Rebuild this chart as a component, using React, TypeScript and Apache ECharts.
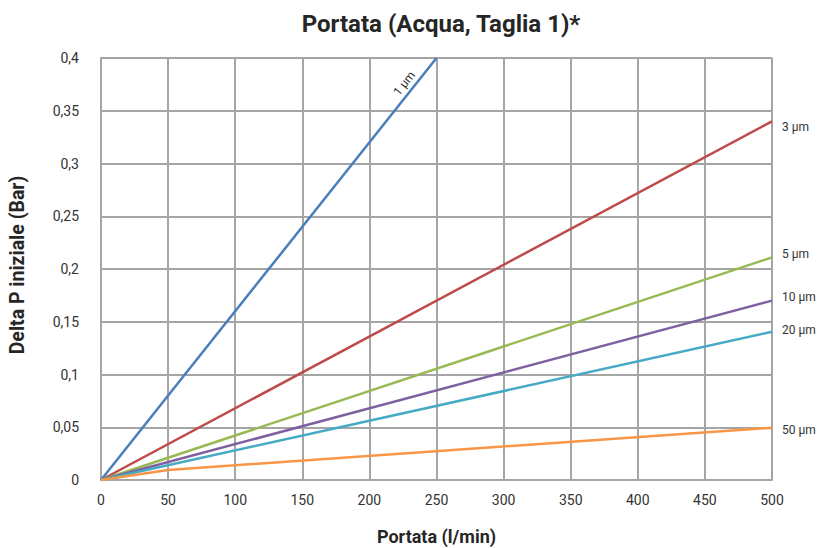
import React, { useEffect, useRef } from "react";
import * as echarts from "echarts";

const title = "Portata (Acqua, Taglia 1)*";
const xName = "Portata (l/min)";
const yName = "Delta P iniziale (Bar)";

const seriesNames = ["1 µm", "3 µm", "5 µm", "10 µm", "20 µm", "50 µm"];
const colors = ["#4a7ebb", "#be4b48", "#98b954", "#7d60a0", "#46aac5", "#f79646"];

const line1um = [[0, 0], [250, 0.4]];
const line3um = [[0, 0], [500, 0.34]];
const line5um = [[0, 0], [500, 0.211]];
const line10um = [[0, 0], [500, 0.17]];
const line20um = [[0, 0], [500, 0.1405]];
const line50um = [[0, 0], [50, 0.0095], [500, 0.0495]];

const seriesData = [line1um, line3um, line5um, line10um, line20um, line50um];

const label1umAt = [226, 0.376];
const endLabelShiftY = [0, 6, -3, -4, -2, 2];

const fmt = (v: number) => String(+v.toFixed(2)).replace(".", ",");

export default function App() {
  const ref = useRef<HTMLDivElement>(null);
  useEffect(() => {
    if (!ref.current) return;
    const chart = echarts.init(ref.current, null, { renderer: "svg" });
    const font = "Roboto";
    chart.setOption({
      animation: false,
      backgroundColor: "#ffffff",
      title: {
        text: title,
        left: 436,
        textAlign: "center",
        top: 7,
        textStyle: { fontFamily: font, fontSize: 24, fontWeight: "bold", color: "#262626" },
      },
      grid: { left: 101, right: 48, top: 58, bottom: 68, containLabel: false, outerBoundsMode: "none" },
      xAxis: {
        type: "value",
        min: 0,
        max: 500,
        interval: 50,
        name: xName,
        nameLocation: "middle",
        nameGap: 47,
        nameTextStyle: { fontFamily: font, fontSize: 18, fontWeight: "bold", color: "#262626" },
        axisLine: { show: true, lineStyle: { color: "#a5a5a5", width: 2 } },
        axisTick: { show: false },
        axisLabel: { fontFamily: font, fontSize: 14, color: "#333", margin: 13 },
        splitLine: { show: true, lineStyle: { color: "#a5a5a5", width: 2 } },
      },
      yAxis: {
        type: "value",
        min: 0,
        max: 0.4,
        interval: 0.05,
        name: yName,
        nameLocation: "middle",
        nameGap: 74,
        nameTextStyle: { fontFamily: font, fontSize: 19.5, fontWeight: "bold", color: "#262626", padding: [0, 0, 0, 8] },
        axisLine: { show: true, lineStyle: { color: "#a5a5a5", width: 2 } },
        axisTick: { show: false },
        axisLabel: { fontFamily: font, fontSize: 14, color: "#333", margin: 22, formatter: fmt },
        splitLine: { show: true, lineStyle: { color: "#a5a5a5", width: 2 } },
      },
      series: seriesData.map((d, i) => ({
        type: "line",
        name: seriesNames[i],
        data: d,
        symbol: "none",
        clip: true,
        lineStyle: { color: colors[i], width: 2.5 },
        itemStyle: { color: colors[i] },
        endLabel:
          i === 0
            ? { show: false }
            : {
                show: true,
                formatter: "{a}",
                distance: 10,
                offset: [0, endLabelShiftY[i]],
                fontFamily: font,
                fontSize: 12,
                color: "#333",
              },
        markPoint:
          i === 0
            ? {
                symbol: "circle",
                symbolSize: 0,
                data: [
                  {
                    coord: label1umAt,
                    label: {
                      show: true,
                      formatter: seriesNames[0],
                      position: "inside",
                      rotate: 52,
                      fontFamily: font,
                      fontSize: 12,
                      color: "#333",
                    },
                  },
                ],
              }
            : undefined,
      })),
    });
    return () => chart.dispose();
  }, []);
  return <div ref={ref} style={{ position: "fixed", left: 0, top: 0, width: 820, height: 548 }} />;
}
